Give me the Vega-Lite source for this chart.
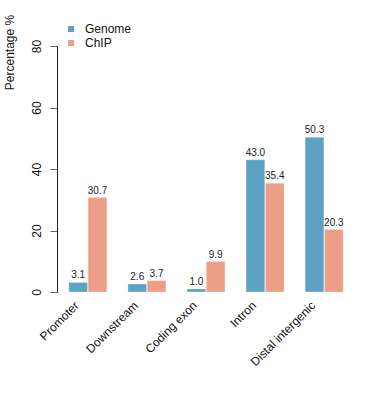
{
  "$schema": "https://vega.github.io/schema/vega-lite/v6.json",
  "width": 298,
  "height": 246,
  "autosize": {"type": "none"},
  "padding": {"left": 57, "top": 46, "right": 35, "bottom": 108},
  "background": "white",
  "config": {
    "view": {"stroke": null},
    "font": "Liberation Sans",
    "axis": {"grid": false}
  },
  "data": {
    "values": [
      {"region": "Promoter", "source": "Genome", "pct": 3.1},
      {"region": "Promoter", "source": "ChIP", "pct": 30.7},
      {"region": "Downstream", "source": "Genome", "pct": 2.6},
      {"region": "Downstream", "source": "ChIP", "pct": 3.7},
      {"region": "Coding exon", "source": "Genome", "pct": 1.0},
      {"region": "Coding exon", "source": "ChIP", "pct": 9.9},
      {"region": "Intron", "source": "Genome", "pct": 43.0},
      {"region": "Intron", "source": "ChIP", "pct": 35.4},
      {"region": "Distal intergenic", "source": "Genome", "pct": 50.3},
      {"region": "Distal intergenic", "source": "ChIP", "pct": 20.3}
    ]
  },
  "encoding": {
    "x": {
      "field": "region",
      "type": "nominal",
      "sort": ["Promoter", "Downstream", "Coding exon", "Intron", "Distal intergenic"],
      "scale": {"paddingInner": 0.356, "paddingOuter": 0.2},
      "axis": {
        "title": null,
        "domain": false,
        "ticks": false,
        "labelAngle": -45,
        "labelAlign": "right",
        "labelBaseline": "middle",
        "labelFontSize": 12,
        "labelColor": "#111",
        "labelPadding": 11,
        "labelOffset": -11
      }
    },
    "xOffset": {
      "field": "source",
      "type": "nominal",
      "sort": ["Genome", "ChIP"],
      "scale": {"paddingInner": 0.03}
    },
    "y": {
      "field": "pct",
      "type": "quantitative",
      "scale": {"domain": [0, 80], "nice": false, "zero": true},
      "axis": {
        "values": [0, 20, 40, 60, 80],
        "title": "Percentage %",
        "titleFontSize": 12,
        "titleFontWeight": "normal",
        "titleColor": "#111",
        "titleAngle": 270,
        "titleAlign": "center",
        "titleBaseline": "middle",
        "titleX": -48,
        "titleY": 6,
        "labelAngle": 270,
        "labelAlign": "center",
        "labelBaseline": "bottom",
        "labelFontSize": 12,
        "labelColor": "#111",
        "labelPadding": 7,
        "tickSize": 7,
        "tickColor": "#666",
        "domainColor": "#222",
        "labelFlush": false
      }
    }
  },
  "layer": [
    {
      "mark": {"type": "bar", "stroke": "white", "strokeWidth": 0.5, "strokeOpacity": 0.6},
      "encoding": {
        "color": {
          "field": "source",
          "type": "nominal",
          "scale": {"domain": ["Genome", "ChIP"], "range": ["#5da1c4", "#ec9e86"]},
          "legend": {
            "title": null,
            "orient": "none",
            "legendX": 8,
            "legendY": -23,
            "padding": 0,
            "symbolType": "square",
            "symbolSize": 36,
            "symbolStrokeWidth": 0,
            "labelFontSize": 12,
            "labelColor": "#111",
            "labelOffset": 8,
            "rowPadding": 2
          }
        }
      }
    },
    {
      "mark": {"type": "text", "baseline": "bottom", "dy": -2, "fontSize": 10, "color": "#222"},
      "encoding": {
        "text": {"field": "pct", "type": "quantitative", "format": ".1f"}
      }
    }
  ]
}
